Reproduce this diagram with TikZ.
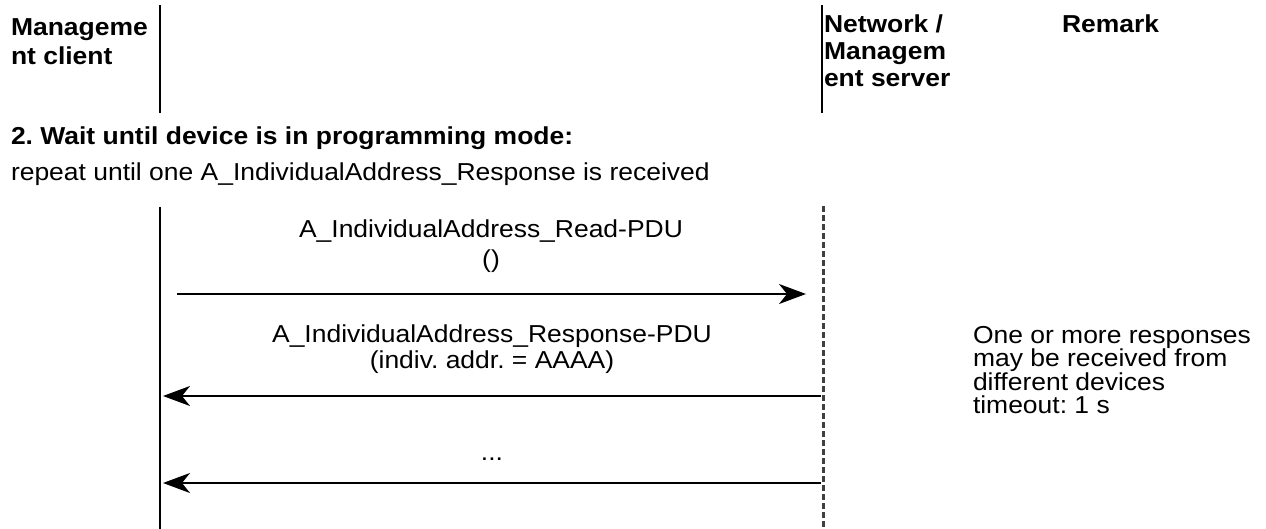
\documentclass[tikz,border=0pt]{standalone}
\usepackage{fontspec}
\setmainfont{Liberation Sans}[FakeStretch=1.08]
\usetikzlibrary{arrows.meta}
\begin{document}
\frenchspacing
\begin{tikzpicture}[x=1pt,y=-1pt,
  txt/.style={inner sep=0pt,outer sep=0pt,anchor=base west,font=\fontsize{24.5}{28}\selectfont},
  btxt/.style={txt,font=\fontsize{24.5}{28}\selectfont\bfseries},
  ctxt/.style={txt,anchor=base},
  life/.style={line width=2pt},
  srv/.style={line width=3pt,black!75,dash pattern=on 6pt off 3pt},
  msg/.style={line width=1.8pt,-{Stealth[length=27pt,width=20pt,inset=8pt]}}]
\useasboundingbox (0,0) rectangle (1266,529);
% header
\node[btxt] (hc1) at (11,36) {Manageme};
\node[btxt] (hc2) at (11,65) {nt client};
\node[btxt] (hs1) at (824,33) {Network /};
\node[btxt] (hs2) at (824,60) {Managem};
\node[btxt] (hs3) at (824,87) {ent server};
\node[btxt] (hr) at (1062,33) {Remark};
\coordinate (hl1a) at (160,5); \coordinate (hl1b) at (160,113);
\coordinate (hl2a) at (822,5); \coordinate (hl2b) at (822,113);
\draw[life] (hl1a) -- (hl1b);
\draw[life] (hl2a) -- (hl2b);
% section
\node[btxt] (sec) at (11,145) {2. Wait until device is in programming mode:};
\node[txt] (rep) at (11,181) {repeat until one A\_IndividualAddress\_Response is received};
% lifelines
\coordinate (ct) at (160,207); \coordinate (cb) at (160,529);
\coordinate (st) at (823,206); \coordinate (sb) at (823,529);
\draw[life] (ct) -- (cb);
\draw[srv] (st) -- (sb);
% message 1
\coordinate (m1a) at (177,294); \coordinate (m1b) at (806,294);
\draw[msg] (m1a) -- (m1b);
\node[ctxt] (l1a) at (491,238) {A\_IndividualAddress\_Read-PDU};
\node[ctxt] (l1b) at (491,268) {()};
% message 2
\coordinate (m2a) at (821,396); \coordinate (m2b) at (163,396);
\draw[msg] (m2a) -- (m2b);
\node[ctxt] (l2a) at (492,342) {A\_IndividualAddress\_Response-PDU};
\node[ctxt] (l2b) at (492,368) {(indiv. addr. = AAAA)};
% message 3
\coordinate (m3a) at (821,483); \coordinate (m3b) at (163,483);
\draw[msg] (m3a) -- (m3b);
\node[ctxt] (l3) at (492,460) {...};
% remark
\node[txt] (r1) at (973,343) {One or more responses};
\node[txt] (r2) at (973,366.5) {may be received from};
\node[txt] (r3) at (973,390) {different devices};
\node[txt] (r4) at (973,413.5) {timeout: 1 s};
\end{tikzpicture}
\end{document}
